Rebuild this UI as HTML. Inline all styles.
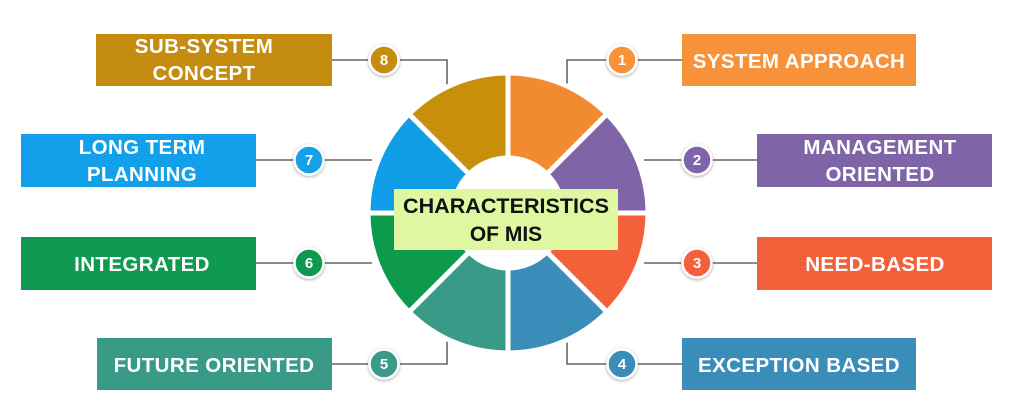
<!DOCTYPE html>
<html><head><meta charset="utf-8"><style>
body{margin:0;background:#fff;}
svg{display:block}
text{font-family:"Liberation Sans",sans-serif;font-weight:bold;}
</style></head><body>
<svg width="1024" height="405" viewBox="0 0 1024 405">
<defs><filter id="sh" x="-50%" y="-50%" width="200%" height="200%"><feDropShadow dx="0" dy="1" stdDeviation="1.5" flood-opacity="0.35"/></filter></defs>
<g stroke="#666" stroke-width="1.6" fill="none">
<polyline points="332,60 447,60 447,90"/>
<polyline points="682,60 567,60 567,90"/>
<polyline points="256,160 372,160"/>
<polyline points="757,160 644,160"/>
<polyline points="256,263 372,263"/>
<polyline points="757,263 644,263"/>
<polyline points="332,364 447,364 447,336"/>
<polyline points="682,364 567,364 567,336"/>
</g>
<g stroke="#fff" stroke-width="5">
<path fill="#f28a30" d="M508,73 A140,140 0 0 1 607,114 L546.9,174.1 A55,55 0 0 0 508,158 Z"/>
<path fill="#8064a8" d="M607,114 A140,140 0 0 1 648,213 L563,213 A55,55 0 0 0 546.9,174.1 Z"/>
<path fill="#f4603a" d="M648,213 A140,140 0 0 1 607,312 L546.9,251.9 A55,55 0 0 0 563,213 Z"/>
<path fill="#3a8db8" d="M607,312 A140,140 0 0 1 508,353 L508,268 A55,55 0 0 0 546.9,251.9 Z"/>
<path fill="#3a9a88" d="M508,353 A140,140 0 0 1 409,312 L469.1,251.9 A55,55 0 0 0 508,268 Z"/>
<path fill="#0e9a4c" d="M409,312 A140,140 0 0 1 368,213 L453,213 A55,55 0 0 0 469.1,251.9 Z"/>
<path fill="#109ee8" d="M368,213 A140,140 0 0 1 409,114 L469.1,174.1 A55,55 0 0 0 453,213 Z"/>
<path fill="#c8900a" d="M409,114 A140,140 0 0 1 508,73 L508,158 A55,55 0 0 0 469.1,174.1 Z"/>
</g>
<rect x="394" y="189" width="224" height="61" fill="#dff7a0"/>
<text x="506" y="213" font-size="21" text-anchor="middle" fill="#111" textLength="206" lengthAdjust="spacingAndGlyphs">CHARACTERISTICS</text>
<text x="506" y="241" font-size="21" text-anchor="middle" fill="#111">OF MIS</text>

<rect x="96" y="34" width="236" height="52" fill="#c48d10"/>
<rect x="21" y="134" width="235" height="53" fill="#13a0ea"/>
<rect x="21" y="237" width="235" height="53" fill="#0e9a50"/>
<rect x="97" y="338" width="235" height="52" fill="#3a9a88"/>
<rect x="682" y="34" width="234" height="52" fill="#f7923a"/>
<rect x="757" y="134" width="235" height="53" fill="#8064a8"/>
<rect x="757" y="237" width="235" height="53" fill="#f4603a"/>
<rect x="682" y="338" width="234" height="52" fill="#3a8db8"/>

<g fill="#fff" font-size="20.5" text-anchor="middle" letter-spacing="0.4">
<text x="204" y="53">SUB-SYSTEM</text><text x="204" y="80">CONCEPT</text>
<text x="142" y="154">LONG TERM</text><text x="142" y="181">PLANNING</text>
<text x="142" y="271">INTEGRATED</text>
<text x="214" y="372">FUTURE ORIENTED</text>
<text x="799" y="68">SYSTEM APPROACH</text>
<text x="880" y="154">MANAGEMENT</text><text x="880" y="181">ORIENTED</text>
<text x="875" y="271">NEED-BASED</text>
<text x="799" y="372">EXCEPTION BASED</text>
</g>
<g stroke="#fff" stroke-width="2.5" filter="url(#sh)">
<circle cx="384" cy="60" r="14.5" fill="#c48d10"/>
<circle cx="309" cy="160" r="14.5" fill="#13a0ea"/>
<circle cx="309" cy="263" r="14.5" fill="#0e9a50"/>
<circle cx="384" cy="364" r="14.5" fill="#3a9a88"/>
<circle cx="622" cy="60" r="14.5" fill="#f7923a"/>
<circle cx="697" cy="160" r="14.5" fill="#8064a8"/>
<circle cx="697" cy="263" r="14.5" fill="#f4603a"/>
<circle cx="622" cy="364" r="14.5" fill="#3a8db8"/>
</g>
<g fill="#fff" font-size="15" text-anchor="middle">
<text x="384" y="65">8</text><text x="309" y="165">7</text><text x="309" y="268">6</text><text x="384" y="369">5</text>
<text x="622" y="65">1</text><text x="697" y="165">2</text><text x="697" y="268">3</text><text x="622" y="369">4</text>
</g>
</svg>
</body></html>
